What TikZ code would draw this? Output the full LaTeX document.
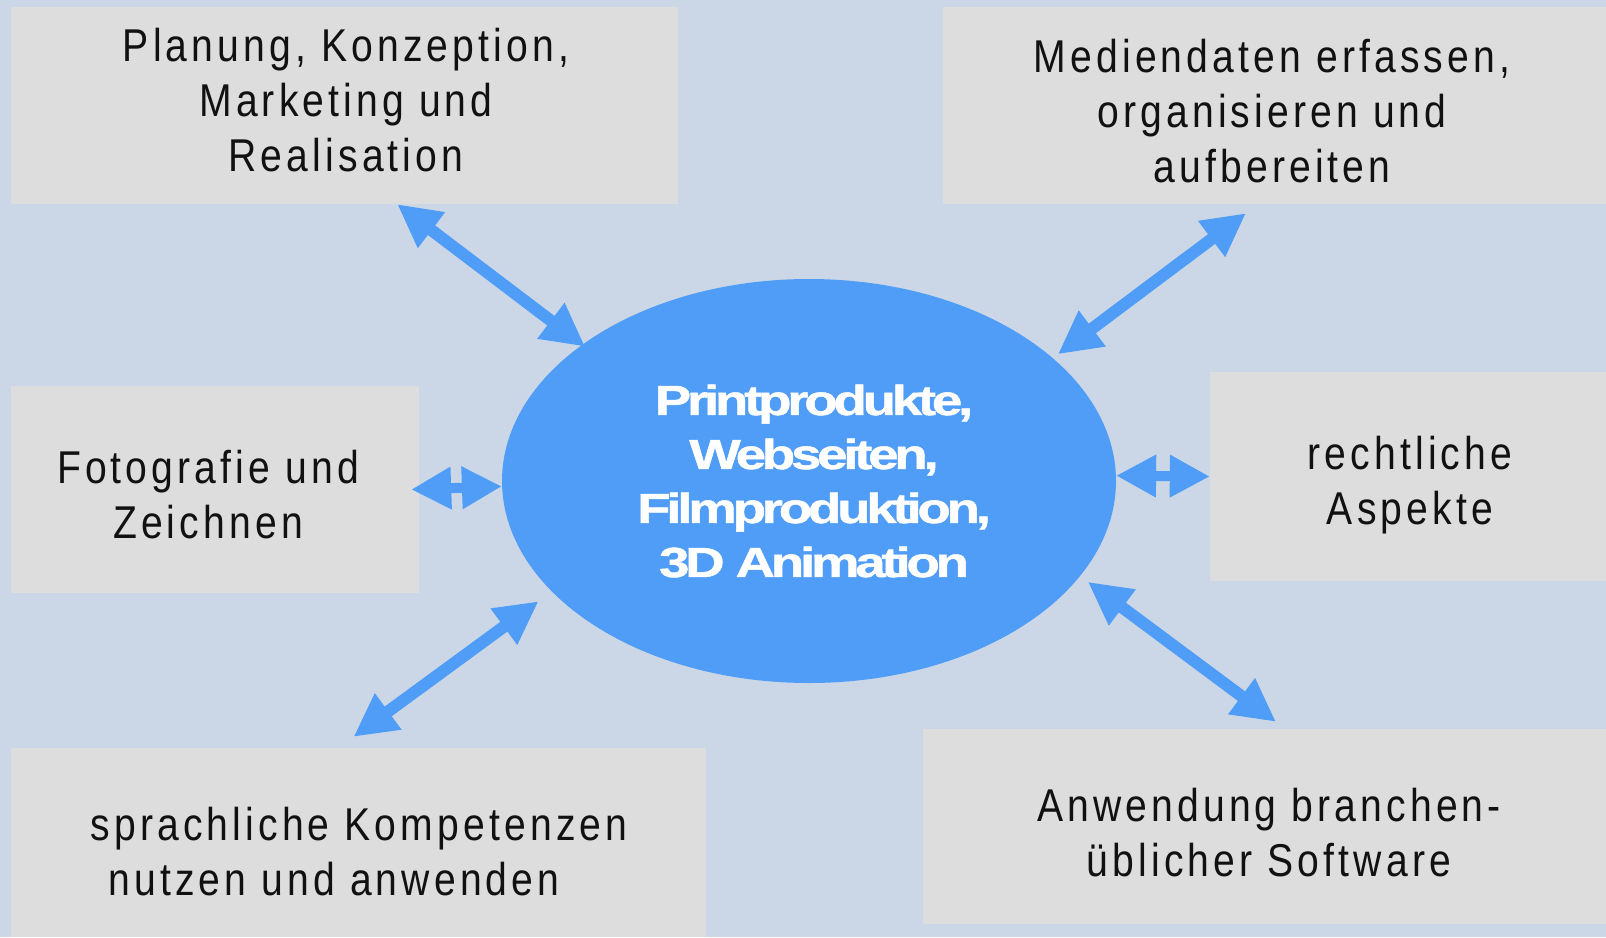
\documentclass[tikz,border=0pt]{standalone}
\usepackage{fontspec}
\usetikzlibrary{shapes.geometric,arrows.meta,calc}
\newfontfamily\boxfont[FakeStretch=0.85,LetterSpace=9]{Liberation Sans}
\newfontfamily\centerfont[FakeStretch=1.3,LetterSpace=-10,FakeBold=1.2]{Liberation Sans Bold}
\definecolor{bgcol}{RGB}{203,215,230}
\definecolor{boxgray}{RGB}{221,221,221}
\definecolor{hubblue}{RGB}{80,157,248}
\definecolor{txt}{RGB}{17,17,17}
\begin{document}
\begin{tikzpicture}[x=1pt,y=-1pt,
  box/.style={fill=boxgray,draw=none,inner sep=0pt},
  boxtext/.style={font=\boxfont\fontsize{46}{55}\selectfont,text=txt,align=center,inner sep=0pt},
  hubtext/.style={font=\centerfont\fontsize{42}{54}\selectfont,text=white,align=center,inner sep=0pt},
  dArrow/.style={draw=hubblue,line width=12pt,{Triangle[length=43pt,width=42pt]}-{Triangle[length=43pt,width=42pt]}},
  hArrow/.style={draw=hubblue,line width=10pt,{Triangle[length=40pt,width=40pt]}-{Triangle[length=40pt,width=40pt]}}
]
\fill[bgcol] (0,0) rectangle (1606,937);
\useasboundingbox (0,0) rectangle (1606,937);
% boxes
\node[box,minimum width=667pt,minimum height=197pt] (b1) at (344.5,105.5) {};
\node[box,minimum width=663pt,minimum height=197pt] (b2) at (1274.5,105.5) {};
\node[box,minimum width=408pt,minimum height=207pt] (b3) at (215,489.5) {};
\node[box,minimum width=396pt,minimum height=209pt] (b4) at (1408,476.5) {};
\node[box,minimum width=695pt,minimum height=189pt] (b5) at (358.5,842.5) {};
\node[box,minimum width=683pt,minimum height=195pt] (b6) at (1264.5,826.5) {};
% hub
\node[ellipse,fill=hubblue,draw=none,minimum width=614pt,minimum height=404pt,inner sep=0pt] (c) at (809,481) {};
% arrows
\draw[dArrow] ($(b1.south west)!0.579!(b1.south east)$) -- ($(c.149.1)+(3,2)$);
\draw[dArrow] ($(b2.south west)!0.457!(b2.south east)+(0,9)$) -- ($(c.27.7)+(6,-3)$);
\draw[hArrow] ($(b3.east)+(-8,0)$) -- (c.181.5);
\draw[hArrow] (c.1.1) -- (b4.west);
\draw[dArrow] ($(b5.north)+(-5,-11)$) -- ($(c.204.7)+(-16,7)$);
\draw[dArrow] ($(c.340.5)+(10,3)$) -- ($(b6.north)+(11.5,-7)$);
% texts
\node[boxtext] (t1) at (346,100.5) {Planung, Konzeption,\\Marketing und\\Realisation};
\node[boxtext] (t2) at (1272,111.5) {Mediendaten erfassen,\\organisieren und\\aufbereiten};
\node[boxtext] (t3) at (208,494.5) {Fotografie und\\Zeichnen};
\node[boxtext] (t4) at (1410,485) {rechtliche\\Aspekte};
\node[boxtext] (t5) at (359,852) {sprachliche Kompetenzen\\nutzen und anwenden\kern50pt\mbox{}};
\node[boxtext] (t6) at (1269,833) {Anwendung branchen-\\üblicher Software};
\node[hubtext] (ct) at (814,481) {Printprodukte,\\Webseiten,\\Filmproduktion,\\3D Animation};
\end{tikzpicture}
\end{document}
